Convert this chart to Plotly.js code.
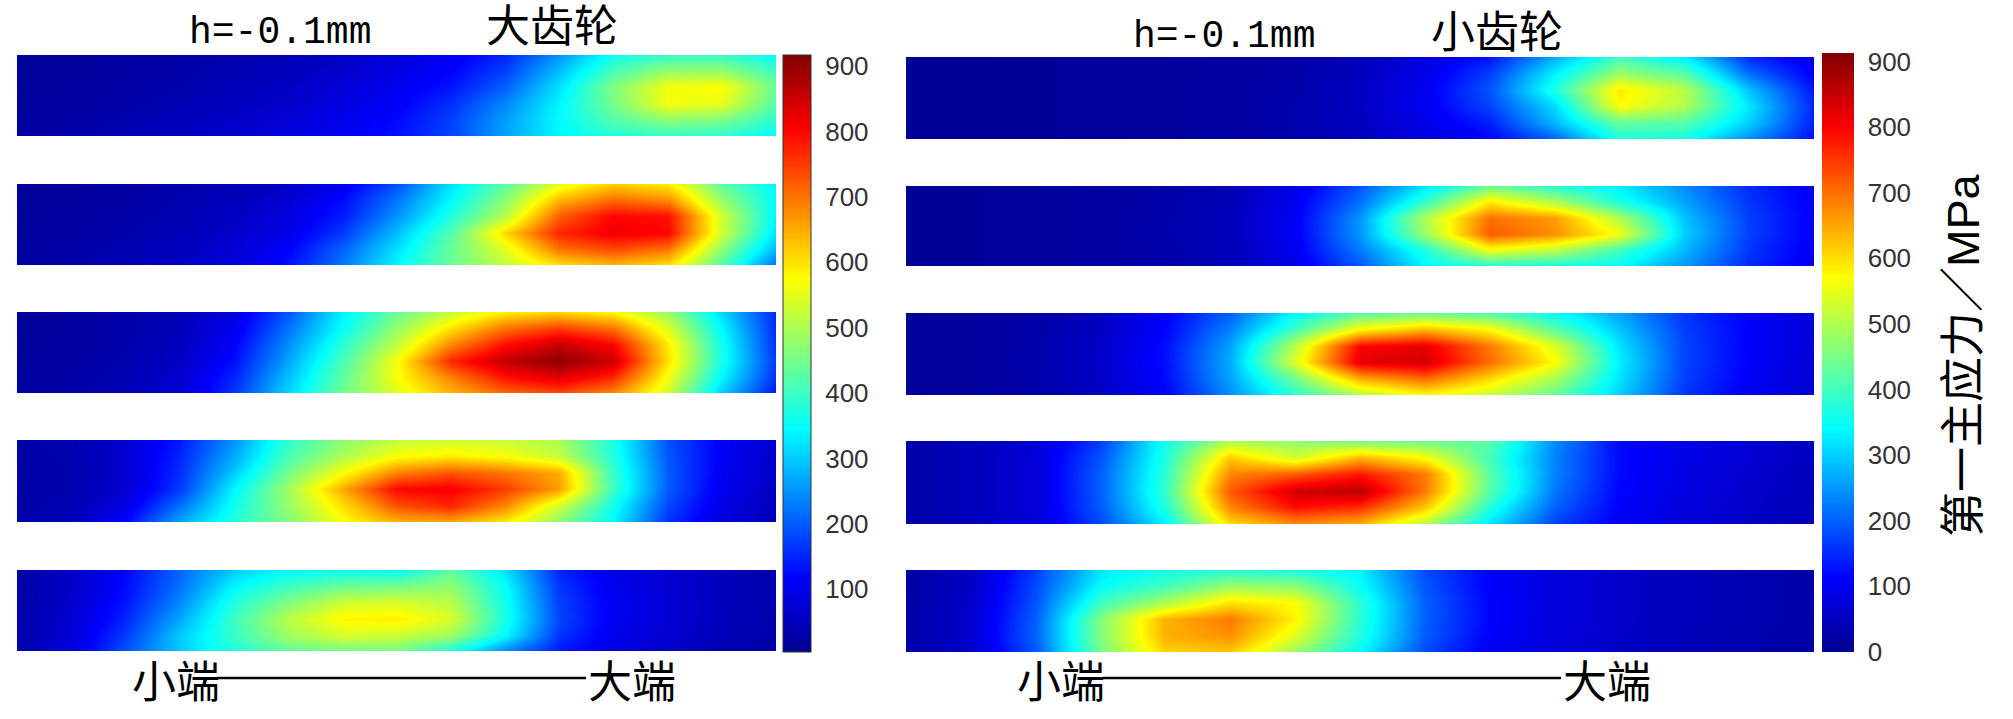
<!DOCTYPE html>
<html><head><meta charset="utf-8">
<script src="https://cdn.plot.ly/plotly-3.0.1.min.js"></script>
<style>html,body{margin:0;padding:0;background:#fff}#c{width:2013px;height:719px}</style></head>
<body><div id="c"></div>
<script>
const colFrac=[0,0.0714,0.1429,0.2143,0.2857,0.3571,0.4286,0.5,0.5714,0.6429,0.7143,0.7857,0.8571,0.9286,1];
const rowFrac=[0,0.2,0.4,0.6,0.8,1];
const big1=[
[15,18,22,28,35,45,60,80,105,150,250,360,395,395,350],
[15,18,24,30,40,50,68,90,118,175,290,410,480,480,400],
[16,20,26,34,45,58,78,100,135,205,320,460,565,575,440],
[18,22,30,40,52,66,88,112,160,240,340,450,565,550,420],
[20,26,36,48,62,78,100,125,175,260,345,420,470,455,385],
[22,30,42,55,70,85,105,130,180,265,340,375,395,385,345]];
const big2=[
[15,18,22,30,42,60,100,190,320,430,550,620,590,430,335],
[15,20,25,35,50,72,125,225,345,470,640,710,680,480,345],
[16,22,28,40,58,85,140,250,375,510,720,800,790,530,340],
[18,24,32,46,65,95,170,290,420,610,770,815,800,530,320],
[20,28,38,52,75,115,205,320,440,545,700,740,700,470,280],
[22,32,44,60,85,130,225,345,440,520,600,640,600,420,215]];
const big3=[
[15,20,30,45,85,195,335,440,520,590,610,580,480,310,150],
[15,20,30,48,100,220,350,480,600,700,750,700,540,340,155],
[16,22,32,52,115,245,380,520,680,790,850,800,590,360,160],
[18,24,36,60,130,265,410,570,770,860,905,850,600,365,165],
[20,26,40,68,150,290,430,570,690,790,830,770,565,340,160],
[22,30,44,76,165,310,445,545,640,710,740,680,530,300,135]];
const big4=[
[30,38,70,140,250,390,470,520,530,525,500,370,190,110,70],
[28,36,70,150,270,410,500,570,590,570,520,375,195,108,65],
[26,34,70,160,300,450,570,690,730,700,650,395,200,105,60],
[26,34,70,170,340,490,650,800,810,750,660,400,200,100,55],
[28,40,90,220,360,480,600,730,770,680,530,360,180,90,50],
[32,50,120,270,380,460,570,640,650,590,470,340,160,80,45]];
const big5=[
[30,60,120,210,300,345,355,350,430,320,150,95,70,50,35],
[28,60,125,220,340,400,440,450,475,350,165,100,72,50,35],
[28,65,135,240,375,460,530,540,510,360,175,105,75,50,35],
[30,70,150,270,400,510,580,590,540,370,180,105,75,50,32],
[30,75,170,300,395,490,540,530,490,345,165,100,70,45,30],
[32,85,190,300,380,430,450,450,370,240,140,90,60,40,25]];
const small1=[
[8,8,10,12,15,18,25,45,80,130,270,400,330,150,90],
[8,8,10,12,15,18,25,48,90,170,330,480,420,210,105],
[8,8,10,12,15,20,28,52,100,190,370,590,510,290,130],
[8,8,10,12,15,20,30,55,100,175,310,570,500,320,145],
[8,8,10,12,15,20,30,50,90,140,280,430,420,300,140],
[8,8,10,12,15,20,30,48,80,115,200,370,360,240,125]];
const small2=[
[8,10,14,18,25,40,90,190,320,440,380,330,240,150,100],
[8,10,14,18,26,42,100,215,390,590,500,370,260,160,105],
[8,10,14,18,28,45,105,250,500,700,660,500,290,170,105],
[8,10,14,18,28,45,105,250,480,720,670,560,300,170,105],
[8,10,14,18,26,42,100,225,370,560,510,400,280,160,100],
[8,10,14,18,25,40,90,190,340,370,360,345,250,150,95]];
const small3=[
[10,14,25,50,110,200,340,420,440,410,350,260,160,110,75],
[10,14,25,55,115,230,400,570,630,570,420,290,170,110,75],
[10,16,28,60,125,260,510,800,820,690,540,320,175,110,75],
[10,16,28,60,125,270,540,820,840,700,570,330,175,110,72],
[10,16,28,58,120,260,440,640,700,600,490,320,170,105,70],
[10,16,26,55,110,240,380,500,570,520,430,300,160,100,65]];
const small4=[
[25,45,70,170,360,500,470,450,440,420,240,120,90,70,50],
[25,45,75,190,370,620,530,640,570,400,230,120,90,70,50],
[25,45,75,200,380,680,720,780,690,420,230,120,85,65,45],
[25,45,75,200,390,720,840,860,690,420,220,115,85,60,45],
[25,45,75,195,370,680,790,760,620,370,200,110,80,60,40],
[25,45,70,180,330,600,670,640,500,320,170,105,75,55,40]];
const small5=[
[22,50,170,320,360,375,365,330,180,110,80,60,45,35,25],
[22,55,180,345,400,480,470,350,190,110,80,60,45,35,25],
[24,60,190,400,500,600,570,380,200,115,80,60,45,35,25],
[24,65,200,460,640,690,580,380,200,115,80,60,45,35,25],
[24,65,205,460,640,670,540,370,195,110,78,58,42,32,22],
[24,60,195,450,610,620,480,340,180,100,72,52,40,30,20]];
const leftTicks=[100,200,300,400,500,600,700,800,900];
const rightTicks=[0,100,200,300,400,500,600,700,800,900];
const leftTitle='大齿轮', rightTitle='小齿轮', heightLabel='h=-0.1mm', smallEnd='小端', bigEnd='大端', barTitle='第一主应力／MPa';

const W=2013,H=719;
const jet=[[0,'rgb(0,0,143)'],[0.125,'rgb(0,0,255)'],[0.375,'rgb(0,255,255)'],[0.625,'rgb(255,255,0)'],[0.875,'rgb(255,0,0)'],[1,'rgb(128,0,0)']];
const px=v=>v/W, py=v=>1-v/H;
const panels=[
 {x:[17,776],bands:[[55,136],[184,265],[312,393],[440,522],[570,651]],z:[big1,big2,big3,big4,big5],zmin:4,zmax:917,bar:[782.5,27.5,55,652],ticks:leftTicks,line:1},
 {x:[906,1814],bands:[[57,139],[186,266],[313,395],[441,524],[570,652]],z:[small1,small2,small3,small4,small5],zmin:0,zmax:913,bar:[1822,32,53,652],ticks:rightTicks,line:0}
];
const data=[],layout={width:W,height:H,margin:{l:0,r:0,t:0,b:0},paper_bgcolor:'#fff',plot_bgcolor:'#fff',showlegend:false,annotations:[],shapes:[]};
let n=0;
panels.forEach(p=>{p.z.forEach((z,i)=>{n++;const s=n===1?'':n;
 layout['xaxis'+s]={domain:[px(p.x[0]),px(p.x[1])],range:[0,1],visible:false,anchor:'y'+s,fixedrange:true};
 layout['yaxis'+s]={domain:[py(p.bands[i][1]),py(p.bands[i][0])],range:[1,0],visible:false,anchor:'x'+s,fixedrange:true};
 const last=i===p.z.length-1;
 data.push({type:'heatmap',x:colFrac,y:rowFrac,z:z,xaxis:'x'+s,yaxis:'y'+s,zsmooth:'best',zmin:p.zmin,zmax:p.zmax,colorscale:jet,hoverinfo:'skip',showscale:last,
  colorbar:last?{x:px(p.bar[0]),xanchor:'left',xref:'paper',y:py(p.bar[3]),yanchor:'bottom',yref:'paper',lenmode:'pixels',len:p.bar[3]-p.bar[2],thicknessmode:'pixels',thickness:p.bar[1],xpad:0,ypad:0,
   outlinewidth:p.line,outlinecolor:'#333',tickmode:'array',tickvals:p.ticks,ticktext:p.ticks.map(String),ticks:'outside',ticklen:9,tickcolor:'rgba(255,255,255,0)',
   tickfont:{family:'Liberation Sans',size:26,color:'#333'}}:undefined});
});});
const note=(t,x,y,size,fam,extra)=>layout.annotations.push(Object.assign({text:t,xref:'paper',yref:'paper',x:px(x),y:py(y),xanchor:'left',yanchor:'middle',showarrow:false,font:{family:fam,size:size,color:'#000'}},extra||{}));
const cjk='Noto Sans CJK SC', mono='Liberation Mono', latinFirst='Liberation Sans, Noto Sans CJK SC';
note(heightLabel,187,32,38,mono);
note(leftTitle,484,27,44,latinFirst);
note(heightLabel,1131,36,38,mono);
note(rightTitle,1429,32,44,latinFirst);
note(smallEnd,130,679,44,cjk);
note(bigEnd,586,679,44,cjk);
note(smallEnd,1015,679,44,cjk);
note(bigEnd,1561,679,44,cjk);
[[217,586],[1103,1561]].forEach(s=>layout.shapes.push({type:'line',xref:'paper',yref:'paper',x0:px(s[0]),x1:px(s[1]),y0:py(678),y1:py(678),line:{color:'#000',width:2.5}}));
note(barTitle,1964,355,45,latinFirst,{textangle:-90,xanchor:'center'});
Plotly.newPlot('c',data,layout,{displayModeBar:false,staticPlot:true});
</script></body></html>
